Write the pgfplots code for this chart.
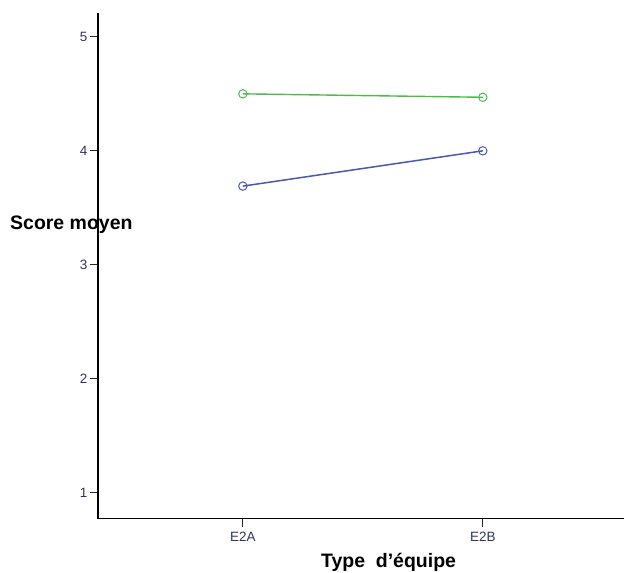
\documentclass[border=0pt]{standalone}
\usepackage{pgfplots}
\pgfplotsset{compat=1.18}
\usepackage{fontspec}
\setmainfont{Liberation Sans}
\definecolor{lgreen}{HTML}{4CBB4C}
\definecolor{lblue}{HTML}{4A58B0}
\definecolor{ticktxt}{HTML}{2E3360}
\begin{document}
\begin{tikzpicture}[x=1pt,y=1pt]
\begin{axis}[
  scale only axis,
  width=527pt, height=506pt,
  xmin=-0.604, xmax=1.59,
  ymin=0.772, ymax=5.21,
  axis x line*=bottom, axis y line*=left,
  axis line style={-, line width=1.2pt, black},
  xtick={0,1}, xticklabels={E2A,E2B},
  ytick={1,2,3,4,5},
  tick align=outside,
  major tick length=8pt,
  tick style={line width=1pt, black!85},
  ticklabel style={font=\fontsize{13.5}{15}\selectfont, text=ticktxt},
  xticklabel style={yshift=-2pt},
  yticklabel style={xshift=1pt},
  /pgf/number format/assume math mode=true,
  clip=false,
]
\addplot[lgreen, line width=1.4pt, mark=o, mark size=4.2pt, mark options={line width=1pt}] coordinates {(0,4.50) (1,4.47)};
\addplot[lblue, line width=1.5pt, mark=o, mark size=4.2pt, mark options={line width=1pt}] coordinates {(0,3.69) (1,4.00)};
\coordinate (o) at (rel axis cs:0,0);
\node[anchor=west, font=\bfseries\fontsize{19.5}{22}\selectfont, inner sep=0pt] at ([xshift=-88pt]rel axis cs:0,0.581) {Score moyen};
\node[anchor=center, font=\bfseries\fontsize{19.5}{22}\selectfont, inner sep=0pt] at ([yshift=-44pt]rel axis cs:0.552,0) {Type\ \ d’équipe};
\end{axis}
\path (o) ++(-98pt,-54pt) rectangle ++(625pt,573pt);
\end{tikzpicture}
\end{document}
